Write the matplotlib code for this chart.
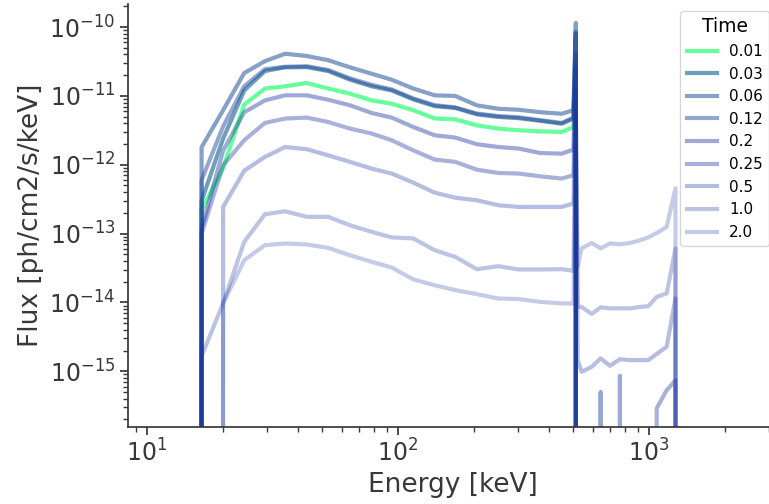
import matplotlib
matplotlib.use("Agg")
import matplotlib.pyplot as plt
import numpy as np

# energy grid [keV]; zeros where a series has no flux
energy = [13.5, 16.5, 20.1, 24.4, 29.5, 35.5, 43.3, 52.7, 64.4, 78.5, 94.4, 115, 140, 169,
          206, 251, 302, 368, 449, 500, 511, 520, 539, 591, 642, 699, 766, 840, 921, 993,
          1073, 1176, 1275, 1400]

times = ['0.01', '0.03', '0.06', '0.12', '0.2', '0.25', '0.5', '1.0', '2.0']

zeros_hi = [0] * 12

flux_001 = [0, 2.2e-13, 9.0e-13, 7.5e-12, 1.28e-11, 1.38e-11, 1.54e-11, 1.28e-11, 1.08e-11,
            8.6e-12, 7.7e-12, 6.2e-12, 4.7e-12, 4.57e-12, 3.74e-12, 3.35e-12, 3.17e-12,
            3.06e-12, 2.99e-12, 3.54e-12, 3.0e-11, 0] + zeros_hi
flux_003 = [0, 3.0e-13, 2.4e-12, 1.2e-11, 2.3e-11, 2.6e-11, 2.62e-11, 2.3e-11, 1.72e-11,
            1.38e-11, 1.2e-11, 8.9e-12, 7.1e-12, 6.7e-12, 5.4e-12, 4.95e-12, 4.75e-12,
            4.35e-12, 3.95e-12, 4.7e-12, 8.5e-11, 0] + zeros_hi
flux_006 = [0, 1.8e-12, 6.2e-12, 2.15e-11, 3.2e-11, 4.1e-11, 3.8e-11, 3.3e-11, 2.6e-11,
            2.1e-11, 1.72e-11, 1.28e-11, 1.02e-11, 1.0e-11, 7.3e-12, 6.5e-12, 6.3e-12,
            5.8e-12, 5.5e-12, 6.2e-12, 1.15e-10, 0] + zeros_hi
flux_012 = [0, 6.0e-13, 3.6e-12, 1.38e-11, 2.45e-11, 2.65e-11, 2.7e-11, 2.38e-11, 1.8e-11,
            1.45e-11, 1.24e-11, 9.2e-12, 7.35e-12, 6.8e-12, 5.55e-12, 5.1e-12, 4.9e-12,
            4.45e-12, 4.05e-12, 4.85e-12, 8.0e-11, 0,
            0, 0, 5.0e-16, 0, 0, 0, 0, 0, 0, 0, 0, 0]
flux_02 = [0, 1.2e-13, 1.6e-12, 5.8e-12, 8.6e-12, 1.02e-11, 1.02e-11, 8.8e-12, 7.3e-12,
           5.65e-12, 4.84e-12, 3.54e-12, 2.68e-12, 2.48e-12, 1.99e-12, 1.81e-12, 1.72e-12,
           1.48e-12, 1.45e-12, 1.66e-12, 4.0e-11, 0,
           0, 0, 0, 0, 8.6e-16, 0, 0, 0, 0, 0, 0, 0]
flux_025 = [0, 1.0e-13, 9.8e-13, 2.27e-12, 4.05e-12, 4.69e-12, 4.84e-12, 4.18e-12, 3.35e-12,
            2.84e-12, 2.27e-12, 1.62e-12, 1.19e-12, 1.10e-12, 8.5e-13, 7.6e-13, 7.45e-13,
            6.8e-13, 6.3e-13, 7.05e-13, 2.5e-11, 0,
            0, 0, 0, 0, 0, 0, 0, 0, 2.9e-16, 5.3e-16, 7.4e-16, 0]
flux_05 = [0, 0, 2.44e-13, 8.2e-13, 1.3e-12, 1.81e-12, 1.68e-12, 1.37e-12, 1.10e-12,
           8.8e-13, 7.45e-13, 5.5e-13, 3.93e-13, 3.32e-13, 3.05e-13, 2.58e-13, 2.44e-13,
           2.44e-13, 2.44e-13, 2.74e-13, 1.2e-11, 1.45e-15,
           9.8e-16, 1.16e-15, 1.54e-15, 1.2e-15, 1.5e-15, 1.45e-15, 1.45e-15, 1.45e-15,
           1.78e-15, 2.27e-15, 1.14e-14, 0]
flux_10 = [0, 1.66e-15, 9.7e-15, 7.6e-14, 1.91e-13, 2.11e-13, 1.75e-13, 1.75e-13, 1.32e-13,
           1.06e-13, 8.8e-14, 8.5e-14, 5.74e-14, 4.59e-14, 3.04e-14, 3.36e-14, 3.01e-14,
           3.01e-14, 3.04e-14, 2.88e-14, 5.0e-12, 8.6e-15,
           8.6e-15, 6.8e-15, 8.5e-15, 8.2e-15, 8.2e-15, 8.2e-15, 8.6e-15, 8.8e-15,
           1.2e-14, 1.35e-14, 6.1e-14, 0]
flux_20 = [0, 0, 9.7e-15, 4.11e-14, 6.79e-14, 7.18e-14, 6.95e-14, 6.2e-14, 4.85e-14,
           3.88e-14, 3.22e-14, 2.16e-14, 1.78e-14, 1.51e-14, 1.32e-14, 1.14e-14, 1.12e-14,
           1.02e-14, 9.67e-15, 9.67e-15, 2.0e-12, 3.3e-14,
           6.1e-14, 7.3e-14, 6.1e-14, 7.2e-14, 7.0e-14, 7.3e-14, 8.0e-14, 8.8e-14,
           1.02e-13, 1.25e-13, 4.56e-13, 0]

fluxes = [flux_001, flux_003, flux_006, flux_012, flux_02, flux_025, flux_05, flux_10, flux_20]
colors = ['#00ff5a', '#0f5f89', '#23529b', '#22469d', '#1a33a0', '#1a33a0', '#1a33a0',
          '#1a33a0', '#1a33a0']
alphas = [0.6, 0.6, 0.55, 0.48, 0.42, 0.38, 0.32, 0.29, 0.25]

fig = plt.figure(figsize=(7.69, 5.04), dpi=100)
ax = fig.add_axes([128 / 769, 77 / 504, 649 / 769, 423.5 / 504])

for i in range(len(times)):
    ax.plot(energy, fluxes[i], color=colors[i], alpha=alphas[i], lw=3, label=times[i])

ax.set_xscale('log')
ax.set_yscale('log')
ax.set_xlim(8.40, 3236)
ax.set_ylim(1.55e-16, 2.2e-10)

ax.set_xlabel('Energy [keV]', fontsize=19, color='#383838')
ax.set_ylabel('Flux [ph/cm2/s/keV]', fontsize=19, color='#383838')
ax.tick_params(which='both', direction='out', colors='#383838', labelsize=17, width=1.25)
ax.tick_params(which='major', length=5.5)
ax.tick_params(which='minor', length=3.5, width=1)
for s in ['top', 'right']:
    ax.spines[s].set_visible(False)
for s in ['left', 'bottom']:
    ax.spines[s].set_color('#383838')
    ax.spines[s].set_linewidth(1.25)

leg = ax.legend(title='Time', loc='upper right', fontsize=11, title_fontsize=13.5,
                frameon=True, edgecolor='.8')

fig.savefig('out.png', dpi=100)
